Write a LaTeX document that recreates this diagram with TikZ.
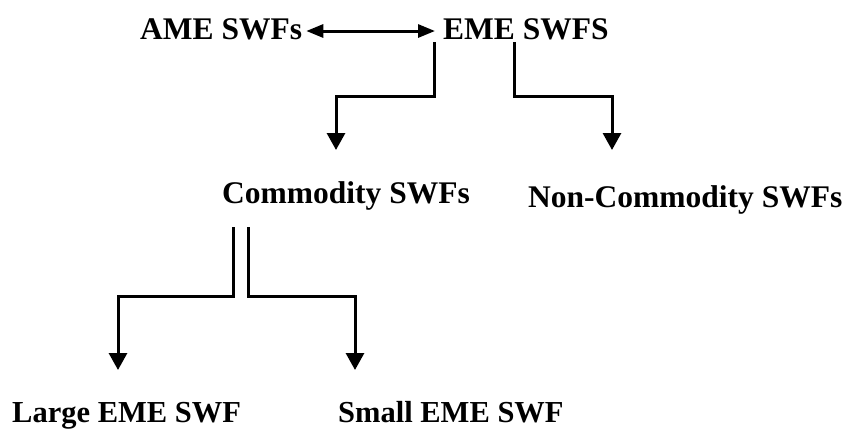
\documentclass[tikz,border=0pt]{standalone}
\usepackage{fontspec}
\setmainfont{Liberation Serif}
\usetikzlibrary{calc,arrows.meta}
\begin{document}
\begin{tikzpicture}[x=1pt,y=-1pt,
  lbl/.style={inner sep=0pt,anchor=base west,font=\fontsize{31.5}{36}\selectfont\bfseries},
  lblsm/.style={lbl,font=\fontsize{30.5}{36}\selectfont\bfseries},
  conn/.style={line width=3pt,-{Triangle[width=18pt,length=17pt]}},
  dbl/.style={line width=3pt,{Triangle[width=13pt,length=17pt]}-{Triangle[width=13pt,length=17pt]}}]
\useasboundingbox (0,0) rectangle (852,432);
\node[lbl] (AME) at (140,39) {AME SWFs};
\node[lbl] (EME) at (443,39) {EME SWFS};
\node[lbl] (Comm) at (222,203) {Commodity SWFs};
\node[lbl] (NonComm) at (528,207) {Non-Commodity SWFs};
\node[lblsm] (Large) at (12,422) {Large EME SWF};
\node[lblsm] (Small) at (338,422) {Small EME SWF};
\draw[dbl] ($(AME.base east)+(4,-8)$) -- ($(EME.base west)+(-8,-8)$);
\draw[conn] ($(EME.base west)+(-9,3)$) -- ++(0,54) -| ($(Comm.base west)+(114,-53)$);
\draw[conn] ($(EME.base west)+(71,3)$) -- ++(0,54) -| ($(NonComm.base west)+(84,-57)$);
\draw[conn] ($(Comm.base west)+(11,24)$) -- ++(0,69) -| ($(Large.base west)+(106,-52)$);
\draw[conn] ($(Comm.base west)+(26,24)$) -- ++(0,69) -| ($(Small.base west)+(17,-52)$);
\end{tikzpicture}
\end{document}
